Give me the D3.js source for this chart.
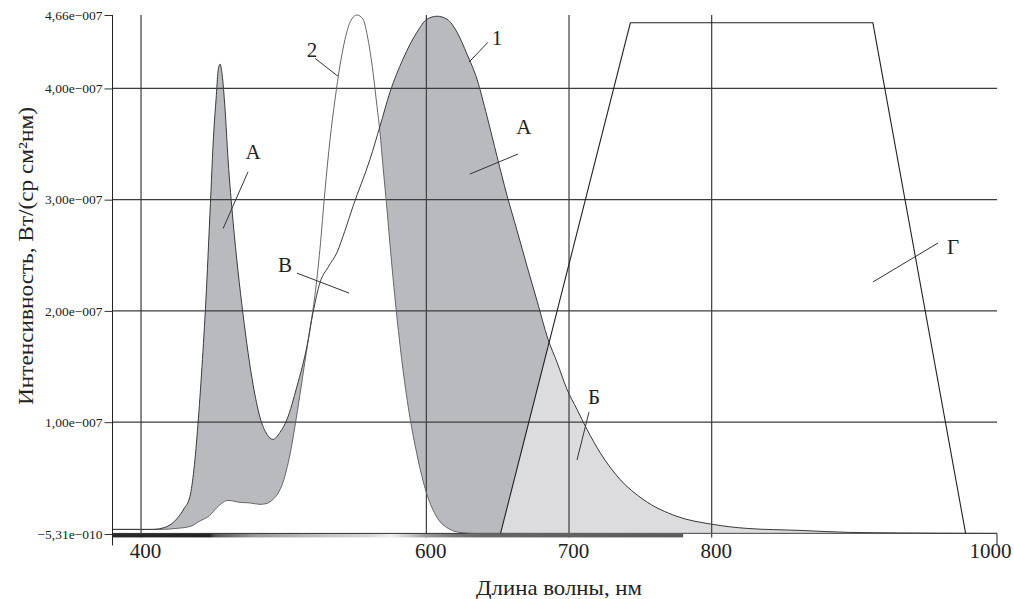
<!DOCTYPE html>
<html>
<head>
<meta charset="utf-8">
<script src="https://cdn.jsdelivr.net/npm/d3@7"></script>
<style>
  body { margin: 0; background: #fff; }
  svg { display: block; }
  svg text { font-family: "Liberation Serif", "DejaVu Serif", serif; }
</style>
</head>
<body>
<div id="chart"></div>
<script>
// intensity values are in units of 1e-7 W/(sr cm2 nm)
// curve 1 - LED spectrum
var wl1 = [380, 399, 408, 418, 425, 430, 434.3, 437.1, 439.9, 442.7, 445.5, 448.3, 451.1, 452.6, 454, 455.4, 456.8, 458.9, 461, 464.5, 468, 471.5, 475, 478.5, 483.4, 488.3, 492.5, 497.4, 502.3, 509.3, 516.3, 520.6, 525.5, 531.1, 537.4, 542.8, 548.6, 560.5, 567.5, 574.5, 583.6, 593.4, 600.4, 607.5, 614.5, 621.5, 628.5, 635.5, 642.5, 649.5, 656.5, 663.5, 670.6, 677.7, 685.3, 691.6, 698.6, 705.6, 712.6, 721.7, 735.7, 751.9, 775.7, 800.9, 824.7, 861.9, 896.9, 932, 1000];
var int1 = [0.036, 0.036, 0.036, 0.06, 0.13, 0.22, 0.333, 0.576, 0.98, 1.493, 2.104, 2.869, 3.633, 3.903, 4.155, 4.218, 4.128, 3.813, 3.363, 2.806, 2.356, 1.969, 1.628, 1.34, 1.043, 0.89, 0.845, 0.908, 1.025, 1.322, 1.682, 1.987, 2.257, 2.392, 2.527, 2.716, 2.941, 3.363, 3.66, 3.966, 4.263, 4.505, 4.622, 4.649, 4.622, 4.505, 4.308, 4.083, 3.75, 3.39, 3.04, 2.725, 2.401, 2.085, 1.745, 1.538, 1.295, 1.115, 0.935, 0.728, 0.486, 0.306, 0.153, 0.081, 0.045, 0.027, 0.009, 0.004, 0];

// curve 2
var wl2 = [380, 413, 425, 435, 441, 448, 453, 457.5, 461, 469.4, 476.4, 483.4, 488.3, 492.5, 496, 499.5, 504.4, 507.9, 511.4, 514.9, 518.4, 521.9, 525.4, 528.9, 532.5, 536, 539.5, 543, 546.5, 551.4, 555.6, 559.1, 562.6, 565.4, 567.5, 569.6, 572.4, 574.5, 576.6, 579.4, 583.6, 588.5, 593.4, 600.4, 607.5, 616.6, 623.6, 634, 1000];
var int2 = [0.036, 0.036, 0.045, 0.065, 0.11, 0.16, 0.23, 0.279, 0.297, 0.279, 0.274, 0.261, 0.27, 0.306, 0.36, 0.459, 0.71, 0.962, 1.25, 1.547, 1.835, 2.14, 2.554, 3.076, 3.543, 3.903, 4.209, 4.442, 4.595, 4.66, 4.622, 4.442, 4.146, 3.84, 3.606, 3.3, 2.914, 2.599, 2.302, 1.942, 1.475, 1.043, 0.711, 0.351, 0.144, 0.036, 0.009, 0, 0];

// Г - trapezoid band
var wlG = [652, 743, 913, 978];
var intG = [0, 4.59, 4.59, 0];

var xTicks = [400, 600, 700, 800, 1000];
var xGrid = [400, 600, 700, 800];
var yTicks = [-0.00531, 1, 2, 3, 4, 4.66];
var yTickLabels = ["\u22125,31e\u2212010", "1,00e\u2212007", "2,00e\u2212007", "3,00e\u2212007", "4,00e\u2212007", "4,66e\u2212007"];
var yGrid = [1, 2, 3, 4];

// visible spectrum strip rendered in grey
var stripWl = [380, 448, 452, 466, 480, 500, 530, 560, 575, 588, 600, 620, 640, 780];
var stripGrey = ["#2a2a2a", "#222", "#555", "#777", "#999", "#aaa", "#c4c4c4", "#d8d8d8", "#f0f0f0", "#c8c8c8", "#999", "#777", "#666", "#5a5a5a"];

var notes = [
    {t: "2", tx: 519.8, tv: 4.35, x1: 522, v1: 4.27, x2: 538, v2: 4.11},
    {t: "1", tx: 649.5, tv: 4.46, x1: 643.2, v1: 4.415, x2: 629.9, v2: 4.236},
    {t: "А", tx: 478.5, tv: 3.43, x1: 475, v1: 3.25, x2: 457.5, v2: 2.74},
    {t: "В", tx: 500.9, tv: 2.42, x1: 509.3, v1: 2.34, x2: 545.8, v2: 2.16},
    {t: "А", tx: 668.4, tv: 3.66, x1: 664.2, v1: 3.41, x2: 630.5, v2: 3.23},
    {t: "Б", tx: 717.5, tv: 1.23, x1: 714, v1: 1.09, x2: 705.6, v2: 0.66},
    {t: "Г", tx: 969.2, tv: 2.58, x1: 958.6, v1: 2.61, x2: 913, v2: 2.26}
];

var width = 1014, height = 599;
var x = d3.scaleLinear().domain([380, 1000]).range([112.5, 997]);
var y = d3.scaleLinear().domain([-0.00531, 4.66]).range([534, 15]);

var s1 = wl1.map((w, i) => ({w: w, v: int1[i]}));
var s2 = wl2.map((w, i) => ({w: w, v: int2[i]}));
var sG = wlG.map((w, i) => ({w: w, v: intG[i]}));

var svg = d3.select("#chart").append("svg")
    .attr("width", width)
    .attr("height", height);

var defs = svg.append("defs");
defs.append("clipPath").attr("id", "trap")
    .append("path")
    .attr("d", d3.line().x(d => x(d.w)).y(d => y(d.v))(sG) + "Z");

var grad = defs.append("linearGradient").attr("id", "spec")
    .attr("gradientUnits", "userSpaceOnUse")
    .attr("x1", x(380)).attr("x2", x(780)).attr("y1", 0).attr("y2", 0);
grad.selectAll("stop").data(stripWl).join("stop")
    .attr("offset", d => (d - 380) / 400)
    .attr("stop-color", (d, i) => stripGrey[i]);

var area = d3.area().curve(d3.curveMonotoneX)
    .x(d => x(d.w)).y0(y(0)).y1(d => y(d.v));
var line = d3.line().curve(d3.curveMonotoneX)
    .x(d => x(d.w)).y(d => y(d.v));

// fills: A under curve 1 above curve 2, Б under curve 1 inside Г
svg.append("path").attr("d", area(s1)).attr("fill", "#b9babe");
svg.append("path").attr("d", area(s2)).attr("fill", "#fff");
svg.append("path").attr("d", area(s1)).attr("fill", "#dcdcde").attr("clip-path", "url(#trap)");

// grid
svg.append("g").selectAll("line").data(yGrid).join("line")
    .attr("x1", x(380)).attr("x2", x(1000))
    .attr("y1", d => y(d)).attr("y2", d => y(d))
    .attr("stroke", "#3c3c3c").attr("stroke-width", 1.2);
svg.append("g").selectAll("line").data(xGrid).join("line")
    .attr("x1", d => x(d)).attr("x2", d => x(d))
    .attr("y1", y(4.66)).attr("y2", y(0) + 4)
    .attr("stroke", "#3c3c3c").attr("stroke-width", 1.2);

// spectrum strip along the baseline
svg.append("rect")
    .attr("x", x(380)).attr("width", x(780) - x(380))
    .attr("y", y(0)).attr("height", 4)
    .attr("fill", "url(#spec)");

svg.append("line")
    .attr("x1", x(380)).attr("x2", x(1000))
    .attr("y1", y(0)).attr("y2", y(0))
    .attr("stroke", "#333");

// curves
svg.append("path").attr("d", line(s2)).attr("fill", "none").attr("stroke", "#666").attr("stroke-width", 1);
svg.append("path").attr("d", line(s1)).attr("fill", "none").attr("stroke", "#3a3a3a").attr("stroke-width", 1);
svg.append("path").attr("d", d3.line().x(d => x(d.w)).y(d => y(d.v))(sG))
    .attr("fill", "none").attr("stroke", "#222").attr("stroke-width", 1.1);

// axes
var yAxis = svg.append("g")
    .attr("transform", `translate(${x(380)},0)`)
    .call(d3.axisLeft(y).tickValues(yTicks).tickFormat((d, i) => yTickLabels[i]).tickSize(8).tickPadding(2));
yAxis.select(".domain").remove();
yAxis.selectAll("text").attr("font-size", 13.5).attr("fill", "#222");
yAxis.selectAll(".tick line").attr("stroke", "#333");

svg.append("line")
    .attr("x1", x(380)).attr("x2", x(380))
    .attr("y1", y(4.66)).attr("y2", y(0) + 12)
    .attr("stroke", "#222");
svg.append("line")
    .attr("x1", x(1000)).attr("x2", x(1000))
    .attr("y1", y(0)).attr("y2", y(0) + 12)
    .attr("stroke", "#222");

var xAxis = svg.append("g")
    .attr("transform", `translate(0,${y(0)})`)
    .call(d3.axisBottom(x).tickValues(xTicks).tickFormat(d3.format("d")).tickSize(0).tickPadding(10));
xAxis.select(".domain").remove();
xAxis.selectAll("text").attr("font-size", 21).attr("fill", "#222")
    .attr("dx", d => d === 1000 ? -7 : 4);

// titles
svg.append("text")
    .attr("x", 559).attr("y", 595)
    .attr("text-anchor", "middle")
    .attr("font-size", 21).attr("fill", "#222")
    .attr("textLength", 166).attr("lengthAdjust", "spacingAndGlyphs")
    .text("Длина волны, нм");
svg.append("text")
    .attr("transform", "translate(33,256) rotate(-90)")
    .attr("text-anchor", "middle")
    .attr("font-size", 21).attr("fill", "#222")
    .attr("textLength", 298).attr("lengthAdjust", "spacingAndGlyphs")
    .text("Интенсивность, Вт/(ср см²нм)");

// annotations
var ann = svg.append("g");
ann.selectAll("line").data(notes).join("line")
    .attr("x1", d => x(d.x1)).attr("y1", d => y(d.v1))
    .attr("x2", d => x(d.x2)).attr("y2", d => y(d.v2))
    .attr("stroke", "#333").attr("stroke-width", 1);
ann.selectAll("text").data(notes).join("text")
    .attr("x", d => x(d.tx)).attr("y", d => y(d.tv))
    .attr("dy", "0.35em")
    .attr("text-anchor", "middle")
    .attr("font-size", 21).attr("fill", "#222")
    .text(d => d.t);
</script>
</body>
</html>
